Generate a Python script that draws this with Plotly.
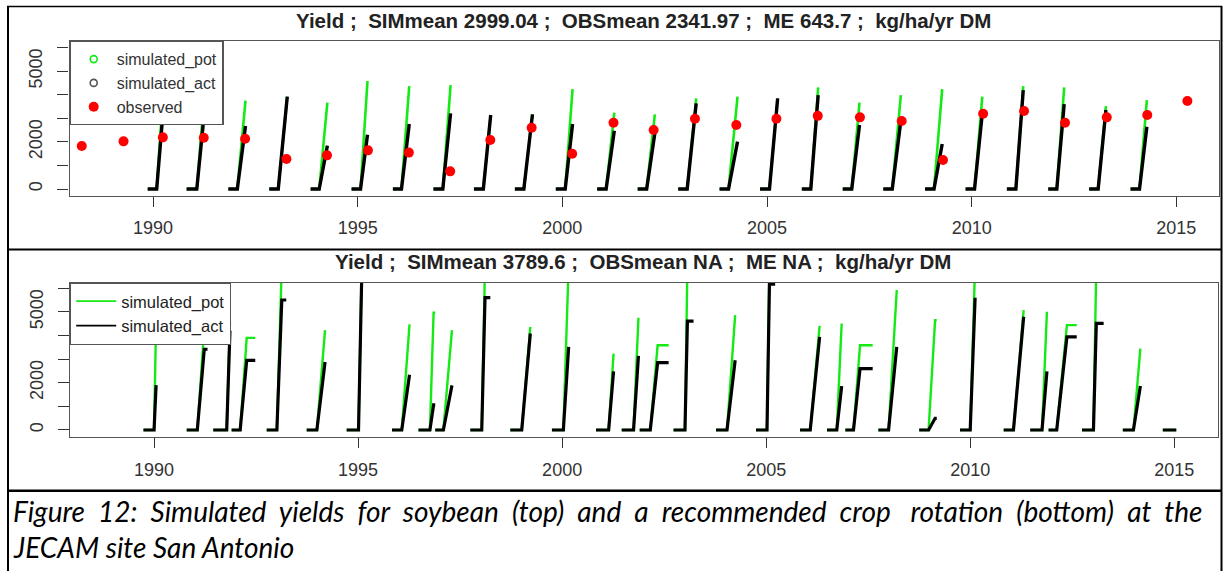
import plotly.graph_objects as go

# ---------------- data: top panel (soybean) ----------------
top_sow = [1989.87, 1990.82, 1991.84, 1992.84, 1993.85, 1994.85, 1995.86, 1996.85, 1997.84,
           1998.84, 1999.84, 2000.85, 2001.84, 2002.83, 2003.84, 2004.83, 2005.85, 2006.85,
           2007.84, 2008.86, 2009.85, 2010.86, 2011.87, 2012.87, 2013.88]
top_emerg = [1990.09, 1991.07, 1992.06, 1993.06, 1994.06, 1995.07, 1996.07, 1997.08, 1998.07,
             1999.06, 2000.07, 2001.07, 2002.06, 2003.05, 2004.06, 2005.06, 2006.07, 2007.07,
             2008.06, 2009.08, 2010.07, 2011.08, 2012.08, 2013.09, 2014.10]
top_harvest = [1990.24, 1991.25, 1992.26, 1993.28, 1994.26, 1995.24, 1996.26, 1997.27, 1998.25,
               1999.27, 2000.25, 2001.27, 2002.26, 2003.27, 2004.28, 2005.26, 2006.25, 2007.26,
               2008.27, 2009.28, 2010.26, 2011.26, 2012.26, 2013.28, 2014.28]
top_pot = [3900, 3900, 3750, 3920, 3665, 4585, 4372, 4415, 3141, 3170, 4245, 3240, 3170,
           3849, 3920, 3849, 4316, 3665, 3990, 4245, 3920, 4372, 4316, 3523, 3778]
top_act = [3150, 3170, 2674, 3920, 1840, 2306, 2759, 3212, 3141, 3170, 2759, 2476, 2363,
           3637, 2009, 3849, 3990, 2717, 2900, 1910, 3212, 4203, 3608, 3354, 2646]
obs_year = [1988.26, 1989.28, 1990.24, 1991.24, 1992.25, 1993.26, 1994.25, 1995.25, 1996.25,
            1997.26, 1998.24, 1999.25, 2000.24, 2001.25, 2002.23, 2003.24, 2004.25, 2005.23,
            2006.24, 2007.27, 2008.29, 2009.30, 2010.28, 2011.28, 2012.28, 2013.30, 2014.29,
            2015.27]
obs_yield = [1825, 2024, 2193, 2179, 2137, 1274, 1429, 1641, 1545, 750, 2080, 2604, 1500,
             2816, 2505, 2986, 2717, 2986, 3106, 3042, 2887, 1231, 3198, 3311, 2816, 3042,
             3141, 3736]

# ---------------- data: bottom panel (crop rotation) ----------------
bot_sow = [1989.74, 1990.80, 1991.45, 1991.90, 1992.76, 1993.74, 1994.72, 1995.83, 1996.48,
           1996.89, 1997.75, 1998.73, 1999.75, 2000.83, 2001.46, 2001.90, 2002.73, 2003.77,
           2004.75, 2005.83, 2006.49, 2006.94, 2007.75, 2008.75, 2009.75, 2010.82, 2011.47,
           2011.92, 2012.74, 2013.74, 2014.72]
bot_emerg = [1990.00, 1991.06, 1991.78, 1992.11, 1993.01, 1993.99, 1995.01, 1996.07, 1996.76,
             1997.09, 1998.03, 1999.01, 2000.03, 2001.14, 2001.75, 2002.16, 2003.01, 2004.04,
             2005.02, 2006.08, 2006.73, 2007.14, 2008.00, 2008.98, 2010.00, 2011.06, 2011.76,
             2012.12, 2013.02, 2014.00, 2015.05]
bot_mature = [1990.05, 1991.23, 1991.86, 1992.27, 1993.13, 1994.19, 1995.09, 1996.26, 1996.85,
              1997.30, 1998.11, 1999.22, 2000.16, 2001.26, 2001.87, 2002.34, 2003.07, 2004.24,
              2005.08, 2006.31, 2006.85, 2007.30, 2008.20, 2009.14, 2010.12, 2011.31, 2011.88,
              2012.37, 2013.09, 2014.17, 2015.05]
bot_end = [1990.05, 1991.31, 1991.86, 1992.48, 1993.24, 1994.19, 1995.09, 1996.26, 1996.89,
           1997.30, 1998.24, 1999.22, 2000.16, 2001.26, 2001.87, 2002.61, 2003.22, 2004.24,
           2005.22, 2006.31, 2006.85, 2007.61, 2008.20, 2009.18, 2010.12, 2011.31, 2011.88,
           2012.61, 2013.27, 2014.17, 2015.05]
bot_pot = [4600, 4300, 4600, 3900, 7000, 4227, 7000, 4468, 4965, 4227, 7000, 4369, 7000, 3234,
           4752, 3589, 7000, 4865, 7000, 4411, 4511, 3589, 5929, 4652, 7000, 5078, 5007, 4440,
           7000, 3447, 0]
bot_act = [1900, 3418, 4200, 2950, 5504, 2880, 6600, 2340, 1064, 1887, 5600, 4085, 3518, 2482,
           3135, 2851, 4610, 2950, 6170, 3943, 1858, 2596, 3518, 496, 5600, 4794, 2482, 3943,
           4511, 1858, 0]

year_ticks = [1990, 1995, 2000, 2005, 2010, 2015]
yield_ticks = [0, 1000, 2000, 3000, 4000, 5000, 6000]
yield_ticktext = ["0", "", "2000", "", "", "5000", ""]

top_title = "Yield ;\u00a0 SIMmean 2999.04 ;\u00a0 OBSmean 2341.97 ;\u00a0 ME 643.7 ;\u00a0 kg/ha/yr DM"
bot_title = "Yield ;\u00a0 SIMmean 3789.6 ;\u00a0 OBSmean NA ;\u00a0 ME NA ;\u00a0 kg/ha/yr DM"
caption_1_words = ["Figure", "12:", "Simulated", "yields", "for", "soybean", "(top)", "and", "a",
                   "recommended", "crop\u00a0", "rotation", "(bottom)", "at", "the"]
caption_2 = "JECAM site San Antonio"

GREEN = "rgb(20,235,20)"
W, H = 1223, 571


def season_path(starts, flat_ends, tops, values, plateau_ends=None):
    xs, ys = [], []
    for i in range(len(starts)):
        xs += [starts[i], flat_ends[i], tops[i]]
        ys += [0, 0, values[i]]
        if plateau_ends is not None:
            xs.append(plateau_ends[i])
            ys.append(values[i])
        xs.append(None)
        ys.append(None)
    return xs, ys


fig = go.Figure()

# legend entries (top panel shows point symbols)
fig.add_trace(go.Scatter(x=[None], y=[None], mode="markers", name="simulated_pot",
                         marker=dict(symbol="circle-open", color=GREEN, size=7, line=dict(width=1.6)),
                         xaxis="x", yaxis="y", legend="legend"))
fig.add_trace(go.Scatter(x=[None], y=[None], mode="markers", name="simulated_act",
                         marker=dict(symbol="circle-open", color="#555", size=7, line=dict(width=1.6)),
                         xaxis="x", yaxis="y", legend="legend"))

px, py = season_path(top_sow, top_emerg, top_harvest, top_pot)
fig.add_trace(go.Scatter(x=px, y=py, mode="lines", line=dict(color=GREEN, width=2.6),
                         showlegend=False, xaxis="x", yaxis="y", hoverinfo="skip"))
ax, ay = season_path(top_sow, top_emerg, top_harvest, top_act)
fig.add_trace(go.Scatter(x=ax, y=ay, mode="lines", line=dict(color="black", width=3.4),
                         showlegend=False, xaxis="x", yaxis="y", hoverinfo="skip"))
fig.add_trace(go.Scatter(x=obs_year, y=obs_yield, mode="markers", name="observed",
                         marker=dict(color="red", size=10), xaxis="x", yaxis="y", legend="legend"))

# bottom panel
fig.add_trace(go.Scatter(x=[None], y=[None], mode="lines", name="simulated_pot",
                         line=dict(color=GREEN, width=1.6), xaxis="x2", yaxis="y2", legend="legend2"))
fig.add_trace(go.Scatter(x=[None], y=[None], mode="lines", name="simulated_act",
                         line=dict(color="black", width=1.6), xaxis="x2", yaxis="y2", legend="legend2"))
bpx, bpy = season_path(bot_sow, bot_emerg, bot_mature, bot_pot, bot_end)
fig.add_trace(go.Scatter(x=bpx, y=bpy, mode="lines", line=dict(color=GREEN, width=2.4),
                         showlegend=False, xaxis="x2", yaxis="y2", hoverinfo="skip"))
bax, bay = season_path(bot_sow, bot_emerg, bot_mature, bot_act, bot_end)
fig.add_trace(go.Scatter(x=bax, y=bay, mode="lines", line=dict(color="black", width=3.2),
                         showlegend=False, xaxis="x2", yaxis="y2", hoverinfo="skip"))

axis_common = dict(showgrid=False, zeroline=False, showline=True, mirror=True,
                   linecolor="#555", linewidth=1.2, ticks="outside", tickcolor="#333",
                   tickwidth=1.2, tickfont=dict(size=18, color="#333",
                                                family="Liberation Sans, Arial"))

top_xd = [69.5 / W, 1218.5 / W]
top_yd = [1 - 195.5 / H, 1 - 41 / H]
bot_xd = [70 / W, 1217.5 / W]
bot_yd = [1 - 436.7 / H, 1 - 282.7 / H]

caption_font = dict(size=28, color="black", family="Lato")
fig.update_layout(
    width=W, height=H, margin=dict(l=0, r=0, t=0, b=0),
    paper_bgcolor="white", plot_bgcolor="white",
    font=dict(family="Liberation Sans, Arial", color="#333"),
    xaxis=dict(axis_common, domain=top_xd, anchor="y", range=[1987.96, 2016.03],
               tickvals=year_ticks, ticklen=10, ticklabelstandoff=6),
    yaxis=dict(axis_common, domain=top_yd, anchor="x", range=[-276, 6285],
               tickvals=yield_ticks, ticktext=yield_ticktext, tickangle=-90,
               ticklen=11, ticklabelstandoff=8),
    xaxis2=dict(axis_common, domain=bot_xd, anchor="y2", range=[1987.94, 2016.06],
                tickvals=year_ticks, ticklen=10, ticklabelstandoff=7),
    yaxis2=dict(axis_common, domain=bot_yd, anchor="x2", range=[-284, 6236],
                tickvals=yield_ticks, ticktext=yield_ticktext, tickangle=-90,
                ticklen=11, ticklabelstandoff=8),
    legend=dict(x=top_xd[0], y=top_yd[1], xanchor="left", yanchor="top",
                bgcolor="white", bordercolor="#555", borderwidth=1.2,
                font=dict(size=16, color="#333"), itemwidth=36, tracegroupgap=0),
    legend2=dict(x=bot_xd[0], y=bot_yd[1], xanchor="left", yanchor="top",
                 bgcolor="white", bordercolor="#555", borderwidth=1.2,
                 font=dict(size=16.5, color="#222"), itemwidth=40, tracegroupgap=0),
    annotations=[
        dict(text="<b>" + top_title + "</b>", x=643 / W, y=1 - 20.7 / H, xref="paper", yref="paper",
             showarrow=False, xanchor="center", yanchor="middle",
             font=dict(size=20.5, color="#222")),
        dict(text="<b>" + bot_title + "</b>", x=643 / W, y=1 - 261.7 / H, xref="paper", yref="paper",
             showarrow=False, xanchor="center", yanchor="middle",
             font=dict(size=20.5, color="#222")),
        dict(text="<i>" + "\u00a0\u00a0".join(caption_1_words) + "</i>", x=11 / W, y=1 - 511 / H,
             xref="paper", yref="paper", showarrow=False, xanchor="left", yanchor="middle",
             font=caption_font),
        dict(text="<i>" + caption_2 + "</i>", x=11 / W, y=1 - 547 / H, xref="paper", yref="paper",
             showarrow=False, xanchor="left", yanchor="middle", font=caption_font),
    ],
    shapes=[
        dict(type="line", xref="paper", yref="paper", x0=8 / W, x1=8 / W, y0=0, y1=1 - 6 / H,
             line=dict(color="black", width=2)),
        dict(type="line", xref="paper", yref="paper", x0=1221.5 / W, x1=1221.5 / W, y0=0, y1=1 - 6 / H,
             line=dict(color="black", width=2)),
        dict(type="line", xref="paper", yref="paper", x0=7 / W, x1=1222 / W, y0=1 - 6.5 / H, y1=1 - 6.5 / H,
             line=dict(color="black", width=1.5)),
        dict(type="line", xref="paper", yref="paper", x0=7 / W, x1=1222 / W, y0=1 - 249.5 / H, y1=1 - 249.5 / H,
             line=dict(color="black", width=2)),
        dict(type="line", xref="paper", yref="paper", x0=7 / W, x1=1222 / W, y0=1 - 490.7 / H, y1=1 - 490.7 / H,
             line=dict(color="black", width=2.5)),
    ],
)

fig.write_html("out.html")
